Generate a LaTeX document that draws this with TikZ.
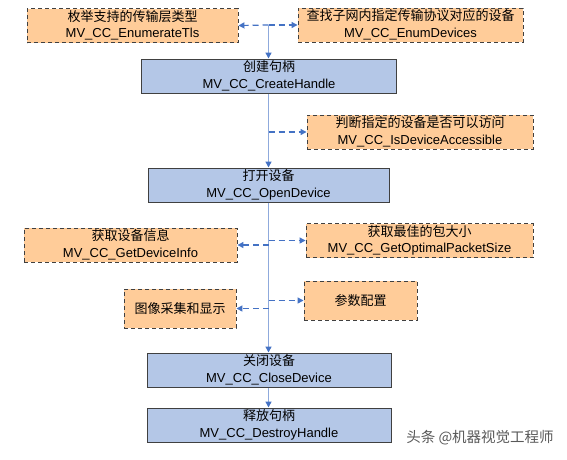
\documentclass[tikz,border=0pt]{standalone}
\usepackage{fontspec}
\setmainfont{Liberation Sans}
\newfontfamily\cjk{Noto Sans CJK SC}
\usetikzlibrary{arrows.meta}
\definecolor{peach}{HTML}{FFCC99}
\definecolor{paleblue}{HTML}{B4C7E7}
\definecolor{linkblue}{HTML}{4472C4}
\definecolor{spineblue}{HTML}{8FAADC}
\definecolor{boxgray}{HTML}{404040}
\begin{document}
\begin{tikzpicture}[x=1pt,y=-1pt,
    optbox/.style={draw=boxgray,fill=peach,dash pattern=on 4pt off 3pt,line width=0.9pt,inner sep=0pt,
        align=center,minimum height=34pt,font=\fontsize{13}{16.5}\selectfont},
    mainbox/.style={draw=boxgray,fill=paleblue,line width=1pt,inner sep=0pt,
        align=center,minimum height=34pt,font=\fontsize{13}{16.5}\selectfont},
    spine/.style={draw=spineblue,line width=1.5pt,-{Triangle[length=6pt,width=6pt,color=linkblue]}},
    dashlink/.style={draw=linkblue,line width=1.2pt,dash pattern=on 6pt off 4pt,
        -{Triangle[length=6pt,width=6pt]}}]
    \useasboundingbox (0,0) rectangle (567,459);
    \node[optbox,minimum width=211pt] (tls) at (132.5,25.5) {{\cjk 枚举支持的传输层类型}\\MV\_CC\_EnumerateTls};
    \node[optbox,minimum width=225pt] (enumdev) at (410.5,25) {{\cjk 查找子网内指定传输协议对应的设备}\\MV\_CC\_EnumDevices};
    \node[mainbox,minimum width=255pt] (create) at (269,76) {{\cjk 创建句柄}\\MV\_CC\_CreateHandle};
    \node[optbox,minimum width=226pt] (access) at (420,132) {{\cjk 判断指定的设备是否可以访问}\\MV\_CC\_IsDeviceAccessible};
    \node[mainbox,minimum width=241pt] (open) at (268.5,185) {{\cjk 打开设备}\\MV\_CC\_OpenDevice};
    \node[optbox,minimum width=213pt] (info) at (130.5,245) {{\cjk 获取设备信息}\\MV\_CC\_GetDeviceInfo};
    \node[optbox,minimum width=227pt] (packet) at (419.5,240.5) {{\cjk 获取最佳的包大小}\\MV\_CC\_GetOptimalPacketSize};
    \node[optbox,minimum width=112pt,minimum height=39pt] (grab) at (180,308.5) {\cjk 图像采集和显示};
    \node[optbox,minimum width=113pt,minimum height=39pt] (param) at (360.5,300.5) {\cjk 参数配置};
    \node[mainbox,minimum width=244pt] (close) at (269,370) {{\cjk 关闭设备}\\MV\_CC\_CloseDevice};
    \node[mainbox,minimum width=244pt] (destroy) at (269,425) {{\cjk 释放句柄}\\MV\_CC\_DestroyHandle};
    \node[text=black!65,font=\fontsize{14.5}{14.5}\selectfont] (mark) at (480,438) {\cjk 头条 @机器视觉工程师};
    \coordinate (top) at (268.5,25);
    \draw[dashlink] (top) -- (tls.east);
    \draw[dashlink] (top) -- (enumdev.west);
    \draw[spine] (top) -- (top |- create.north);
    \draw[spine] (top |- create.south) -- (top |- open.north);
    \draw[dashlink] (top |- access.west) -- (access.west);
    \draw[spine] (top |- open.south) -- (top |- close.north);
    \draw[dashlink] (top |- packet.west) -- (packet.west);
    \draw[dashlink] (top |- info.east) -- (info.east);
    \draw[dashlink] (top |- param.west) -- (param.west);
    \draw[dashlink] (top |- grab.east) -- (grab.east);
    \draw[spine] (top |- close.south) -- (top |- destroy.north);
\end{tikzpicture}
\end{document}
